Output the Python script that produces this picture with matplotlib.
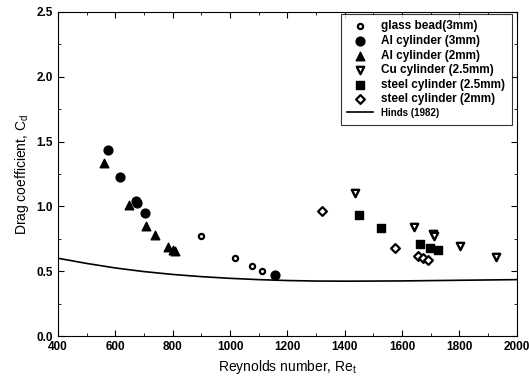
import numpy as np
import matplotlib.pyplot as plt
from matplotlib.ticker import MultipleLocator, FormatStrFormatter

plt.rcParams['font.family'] = ['Liberation Sans', 'DejaVu Sans']
plt.rcParams['mathtext.fontset'] = 'custom'
plt.rcParams['mathtext.rm'] = 'Liberation Sans'
plt.rcParams['mathtext.it'] = 'Liberation Sans'

glass_re = [897, 1017, 1075, 1112]
glass_cd = [0.774, 0.604, 0.543, 0.504]

al3_re = [573, 618, 672, 677, 705, 1158]
al3_cd = [1.433, 1.227, 1.044, 1.03, 0.951, 0.47]

al2_re = [561, 647, 708, 738, 784, 800, 808]
al2_cd = [1.337, 1.01, 0.849, 0.78, 0.69, 0.665, 0.655]

cu_re = [1436, 1641, 1706, 1712, 1801, 1929]
cu_cd = [1.101, 0.839, 0.787, 0.769, 0.694, 0.612]

st25_re = [1450, 1526, 1662, 1697, 1724]
st25_cd = [0.931, 0.836, 0.707, 0.681, 0.661]

st2_re = [1322, 1575, 1656, 1672, 1689]
st2_cd = [0.964, 0.681, 0.617, 0.602, 0.589]

hinds_re = [400, 500, 600, 700, 800, 900, 1000, 1100, 1200, 1300, 1400, 1600, 1800, 2000]
hinds_cd = [0.6, 0.56, 0.525, 0.497, 0.475, 0.458, 0.445, 0.435, 0.428, 0.424, 0.423, 0.425, 0.43, 0.435]

fig = plt.figure(figsize=(5.29, 3.83), dpi=100)
ax = fig.add_axes([0.1096, 0.1227, 0.8674, 0.846])

ax.scatter(glass_re, glass_cd, marker='o', s=14, facecolors='white', edgecolors='black', linewidths=1.6, label='glass bead(3mm)')
ax.scatter(al3_re, al3_cd, marker='o', s=40, color='black', label='Al cylinder (3mm)')
ax.scatter(al2_re, al2_cd, marker='^', s=38, color='black', label='Al cylinder (2mm)')
ax.scatter(cu_re, cu_cd, marker='v', s=28, facecolors='white', edgecolors='black', linewidths=1.7, label='Cu cylinder (2.5mm)')
ax.scatter(st25_re, st25_cd, marker='s', s=32, color='black', label='steel cylinder (2.5mm)')
ax.scatter(st2_re, st2_cd, marker='D', s=20, facecolors='white', edgecolors='black', linewidths=1.6, label='steel cylinder (2mm)')
ax.plot(hinds_re, hinds_cd, color='black', linewidth=1.2, label='Hinds (1982)')

ax.set_xlim(400, 2000)
ax.set_ylim(0, 2.5)
ax.xaxis.set_major_locator(MultipleLocator(200))
ax.xaxis.set_minor_locator(MultipleLocator(100))
ax.yaxis.set_major_locator(MultipleLocator(0.5))
ax.yaxis.set_minor_locator(MultipleLocator(0.25))
ax.yaxis.set_major_formatter(FormatStrFormatter('%.1f'))
ax.tick_params(which='both', direction='in', top=True, right=True, labelsize=8.5)
ax.tick_params(which='major', length=4)
ax.tick_params(which='minor', length=2)
for lab in ax.get_xticklabels() + ax.get_yticklabels():
    lab.set_fontweight('bold')

ax.set_xlabel('Reynolds number, Re$_\\mathrm{t}$', fontsize=10)
ax.set_ylabel('Drag coefficient, C$_\\mathrm{d}$', fontsize=10)

leg = ax.legend(loc='upper right', fontsize=8.5, frameon=True, fancybox=False,
                edgecolor='black', handletextpad=0.7, labelspacing=0.22,
                borderpad=0.55, handlelength=2.2, borderaxespad=0,
                bbox_to_anchor=(0.989, 0.994))
leg.get_frame().set_linewidth(0.8)
for t in leg.get_texts():
    t.set_fontweight('bold')
leg.get_texts()[-1].set_fontsize(7)

fig.savefig('out.png', dpi=100)
